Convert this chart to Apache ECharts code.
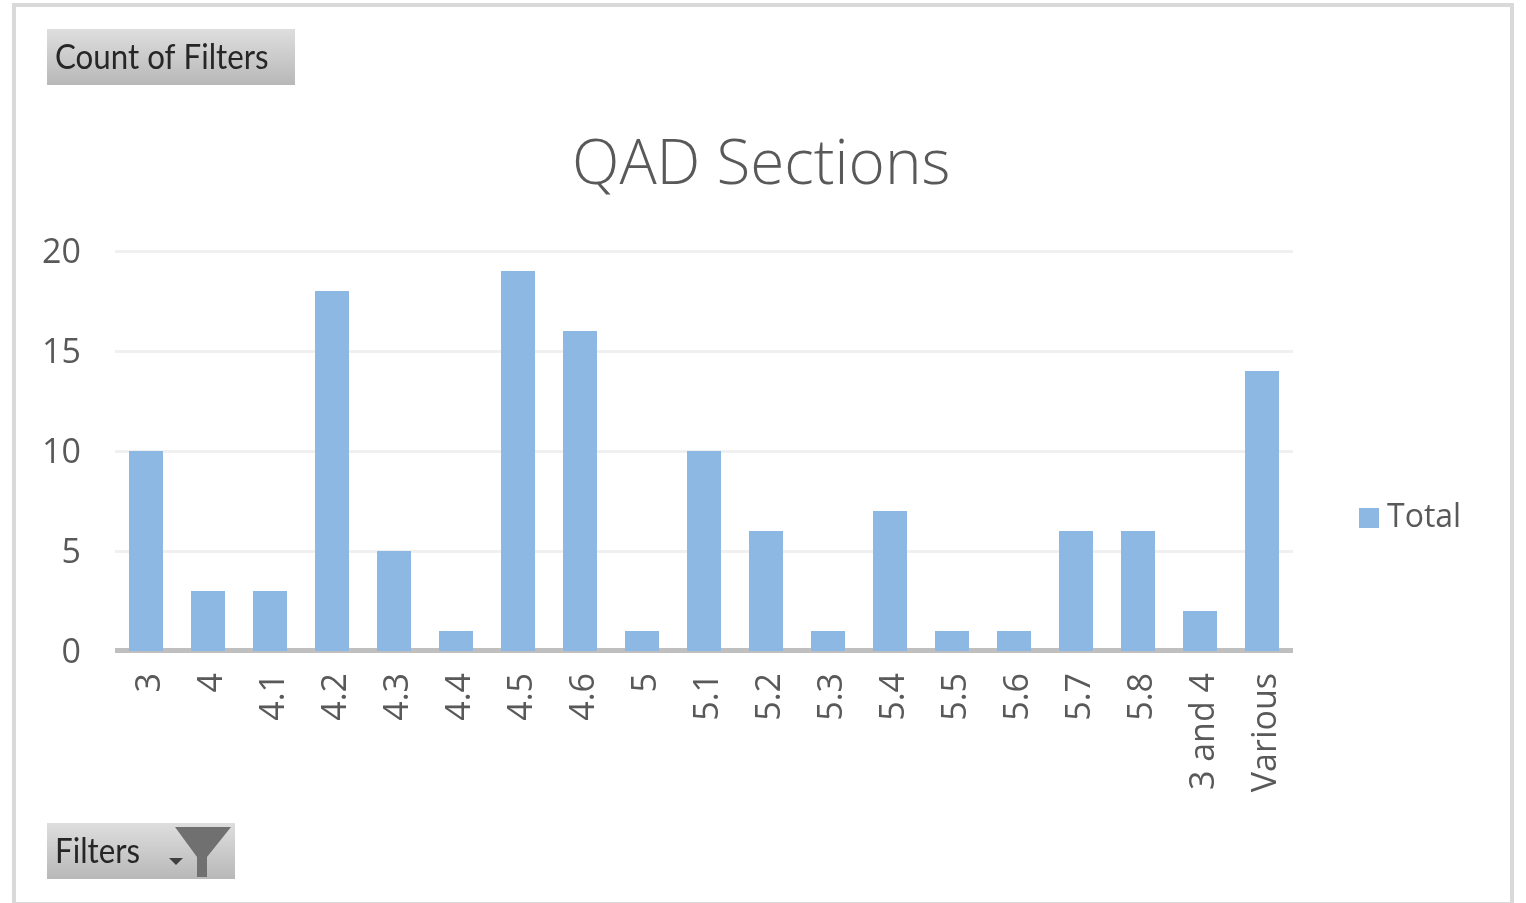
<!DOCTYPE html>
<html>
<head>
<meta charset="utf-8">
<title>QAD Sections</title>
<style>
  html, body { margin: 0; padding: 0; background: #fff; }
  #chart { width: 1526px; height: 903px; }
</style>
<script src="https://cdn.jsdelivr.net/npm/echarts@6/dist/echarts.min.js"></script>
</head>
<body>
<div id="chart"></div>
<script>
const categories = ["3", "4", "4.1", "4.2", "4.3", "4.4", "4.5", "4.6", "5", "5.1", "5.2", "5.3", "5.4", "5.5", "5.6", "5.7", "5.8", "3 and 4", "Various"];
const totals = [10, 3, 3, 18, 5, 1, 19, 16, 1, 10, 6, 1, 7, 1, 1, 6, 6, 2, 14];
const yTicks = { min: 0, max: 20, interval: 5 };

const fieldGradient = {
  type: "linear", x: 0, y: 0, x2: 0, y2: 1,
  colorStops: [{ offset: 0, color: "#dedede" }, { offset: 1, color: "#b8b8b8" }],
};

const chart = echarts.init(document.getElementById("chart"));
chart.setOption({
  animation: false,
  backgroundColor: "#fff",
  textStyle: { fontFamily: "Open Sans" },
  title: {
    text: "QAD Sections",
    left: 567,
    top: 130,
    textStyle: { fontFamily: "Open Sans", fontWeight: 300, fontSize: 62, color: "#595959" },
  },
  legend: {
    data: ["Total"],
    left: 1354,
    top: 497,
    itemWidth: 20,
    itemHeight: 20,
    itemGap: 8,
    icon: "rect",
    textStyle: { fontSize: 32, color: "#595959", padding: [0, 0, 0, 3] },
  },
  grid: { left: 115, right: 233, top: 251, bottom: 252 },
  xAxis: {
    type: "category",
    data: categories,
    offset: -1,
    axisLine: { lineStyle: { color: "#bfbfbf", width: 5, cap: "butt" } },
    axisTick: { show: false },
    axisLabel: {
      rotate: 90, interval: 0, margin: 23,
      formatter: "{v|{value}}",
      rich: { v: { fontSize: 34, color: "#595959", padding: [8, 0, 0, 0] } },
    },
  },
  yAxis: {
    type: "value",
    min: yTicks.min,
    max: yTicks.max,
    interval: yTicks.interval,
    axisLine: { show: false },
    axisTick: { show: false },
    axisLabel: {
      margin: 34,
      formatter: "{v|{value}}",
      rich: { v: { fontSize: 34, color: "#595959", padding: [4, 0, 0, 0] } },
    },
    splitLine: { lineStyle: { color: "#f0f0f0", width: 3 } },
  },
  series: [{
    name: "Total",
    type: "bar",
    data: totals,
    barWidth: 34,
    itemStyle: { color: "#8cb8e3" },
  }],
  graphic: [
    { type: "rect", silent: true, shape: { x: 14, y: 5, width: 1498, height: 899 },
      style: { fill: "none", stroke: "#d9d9d9", lineWidth: 4 } },
    { type: "rect", silent: true, shape: { x: 47, y: 29, width: 248, height: 56 },
      style: { fill: fieldGradient } },
    { type: "text", silent: true, x: 55, y: 41, scaleX: 0.92,
      style: { text: "Count of Filters", font: "34px Lato", fill: "#262626" } },
    { type: "rect", silent: true, shape: { x: 47, y: 823, width: 188, height: 56 },
      style: { fill: fieldGradient } },
    { type: "text", silent: true, x: 55, y: 835, scaleX: 0.92,
      style: { text: "Filters", font: "34px Lato", fill: "#262626" } },
    { type: "polygon", silent: true,
      shape: { points: [[175, 827], [231, 827], [207, 857], [207, 877], [197, 877], [197, 857]] },
      style: { fill: "#707070" } },
    { type: "polygon", silent: true,
      shape: { points: [[169, 858], [183, 858], [176, 865]] },
      style: { fill: "#404040" } },
  ],
});
</script>
</body>
</html>
